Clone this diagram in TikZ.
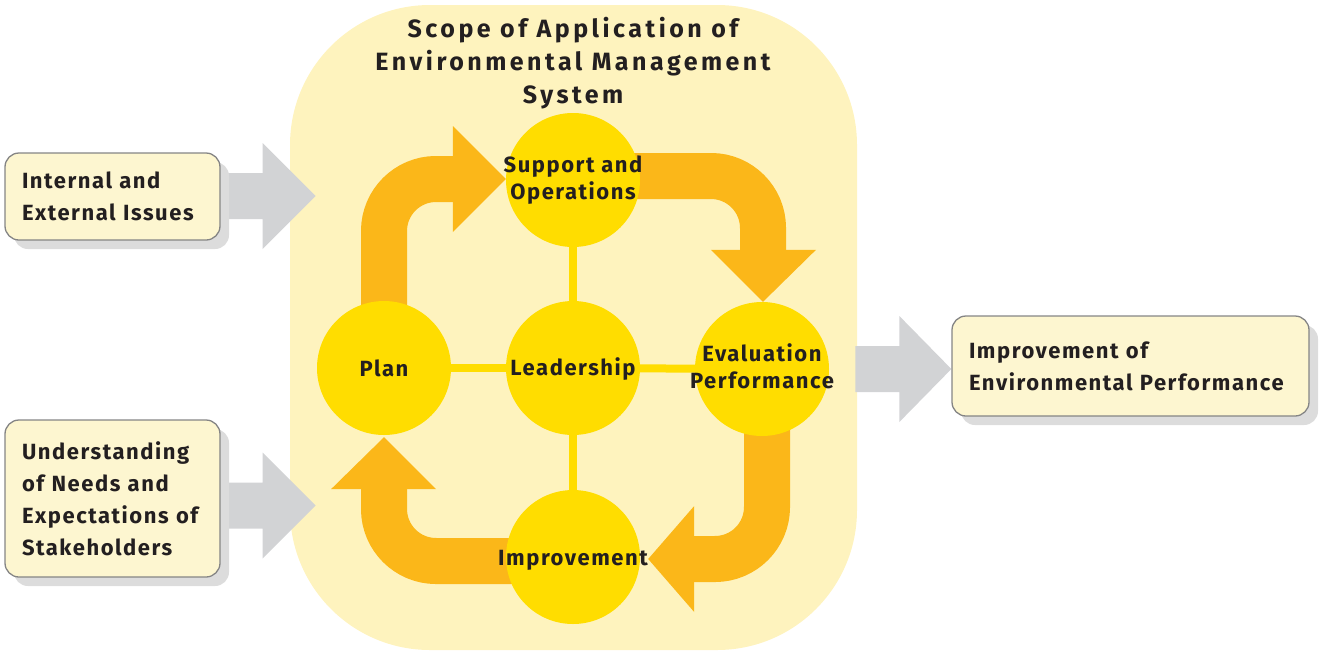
\documentclass[tikz,border=0pt]{standalone}
\usepackage{fontspec}
\setmainfont{Fira Sans}
\newfontfamily\titlefont{Fira Sans}[LetterSpace=14]
\newfontfamily\stagefont{Fira Sans}[LetterSpace=7]
\newfontfamily\boxfont{Fira Sans}[LetterSpace=7]
\usetikzlibrary{calc,shadows}
\definecolor{bgyellow}{HTML}{FEF3BE}
\definecolor{circyellow}{HTML}{FFDD00}
\definecolor{arrorange}{HTML}{FBB719}
\definecolor{arrgray}{HTML}{D2D3D5}
\definecolor{boxfill}{HTML}{FDF6D0}
\definecolor{boxline}{HTML}{858585}
\definecolor{txt}{HTML}{231F20}
\definecolor{shadowgray}{HTML}{DCDCDC}
\pgfdeclarelayer{bglayer}
\pgfdeclarelayer{arrowlayer}
\pgfsetlayers{bglayer,arrowlayer,main}
\tikzset{
  scopebox/.style={fill=bgyellow, rounded corners=140pt, minimum width=567pt, minimum height=645pt, inner sep=0pt},
  titletext/.style={text=txt, align=center, font=\titlefont\bfseries\fontsize{25}{33}\selectfont},
  stage/.style={circle, fill=circyellow, minimum size=134pt, inner sep=0pt},
  stagetext/.style={text=txt, align=center, inner sep=0pt, font=\stagefont\bfseries\fontsize{22}{27}\selectfont},
  infobox/.style={draw=boxline, line width=1.3pt, fill=boxfill, rounded corners=14pt, text=txt,
    font=\boxfont\bfseries\fontsize{22}{32}\selectfont, align=left, inner xsep=17pt, inner ysep=0pt,
    drop shadow={shadow xshift=9pt, shadow yshift=-9pt, fill=shadowgray, opacity=1, draw=none}},
  flow/.style={draw=arrorange, line width=46pt, rounded corners=52pt},
  flowhead/.style={fill=arrorange},
  feed/.style={fill=arrgray},
  link/.style={draw=circyellow, line width=8pt},
}
\begin{document}
\begin{tikzpicture}[x=1pt,y=-1pt]
\useasboundingbox (0,0) rectangle (1319,654);
\begin{pgfonlayer}{bglayer}
\node[scopebox] (scope) at (573.5,327.5) {};
\end{pgfonlayer}
\node[titletext] (title) at (573,63) {Scope of Application of\\Environmental Management\\System};

% stages
\node[stage, label={[stagetext]center:Support and\\Operations}] (support) at (573,180) {};
\node[stage, label={[stagetext, yshift=-1pt]center:Leadership}] (lead) at (573,368) {};
\node[stage, label={[stagetext]center:Plan}] (plan) at (384,368) {};
\node[stage, label={[stagetext, yshift=3pt]center:Evaluation\\Performance}] (eval) at (762,369) {};
\node[stage, label={[stagetext, yshift=-3.5pt]center:Improvement}] (improve) at (573,557) {};

% boxes
\node[infobox, text width=181pt, minimum height=87pt] (box1) at (112.5,196.5) {Internal and\\External Issues};
\node[infobox, text width=181pt, minimum height=157pt] (box2) at (112.5,498.5) {Understanding\\of Needs and\\Expectations of\\Stakeholders};
\node[infobox, text width=323pt, minimum height=100pt] (box3) at (1130.5,366) {Improvement of\\Environmental Performance};

\begin{pgfonlayer}{bglayer}
\fill[feed] ($(box1.east)+(-20,-23.5)$) -- ++(62,0) -- ++(0,-30) -- ++(53,53) -- ++(-53,53) -- ++(0,-30) -- ++(-62,0) -- cycle;
\fill[feed] ($(box2.east)+(-20,-16)$) -- ++(62,0) -- ++(0,-30) -- ++(53,53) -- ++(-53,53) -- ++(0,-30) -- ++(-62,0) -- cycle;
\fill[feed] ($(box3.west)+(-96,-20)$) -- ++(44,0) -- ++(0,-30) -- ++(52,53) -- ++(-52,53) -- ++(0,-30) -- ++(-44,0) -- cycle;
\end{pgfonlayer}

\begin{pgfonlayer}{arrowlayer}
\draw[link] (plan) -- (lead);
\draw[link] (lead) -- (eval);
\draw[link] (support) -- (lead);
\draw[link] (lead) -- (improve);
% plan -> support
\draw[flow] (plan.center) |- ($(support.west)+(-53,-1)$);
\fill[flowhead] ($(support.west)+(0,-1)$) -- ++(-53,-53) -- ++(0,106) -- cycle;
% support -> eval
\draw[flow] ($(support.center)+(0,-4)$) -| ($(eval.north)+(1,-52)$);
\fill[flowhead] ($(eval.north)+(1,0)$) -- ++(-52,-52) -- ++(105,0) -- cycle;
% eval -> improvement
\draw[flow] ($(eval.center)+(5,0)$) |- ($(improve.east)+(54,2)$);
\fill[flowhead] ($(improve.east)+(8,2)$) -- ++(46,-53) -- ++(0,106) -- cycle;
% improvement -> plan
\draw[flow] ($(improve.center)+(0,4)$) -| ($(plan.south)+(0,54)$);
\fill[flowhead] ($(plan.south)+(0,2)$) -- ++(-53,52) -- ++(105,0) -- cycle;
\end{pgfonlayer}
\end{tikzpicture}
\end{document}
